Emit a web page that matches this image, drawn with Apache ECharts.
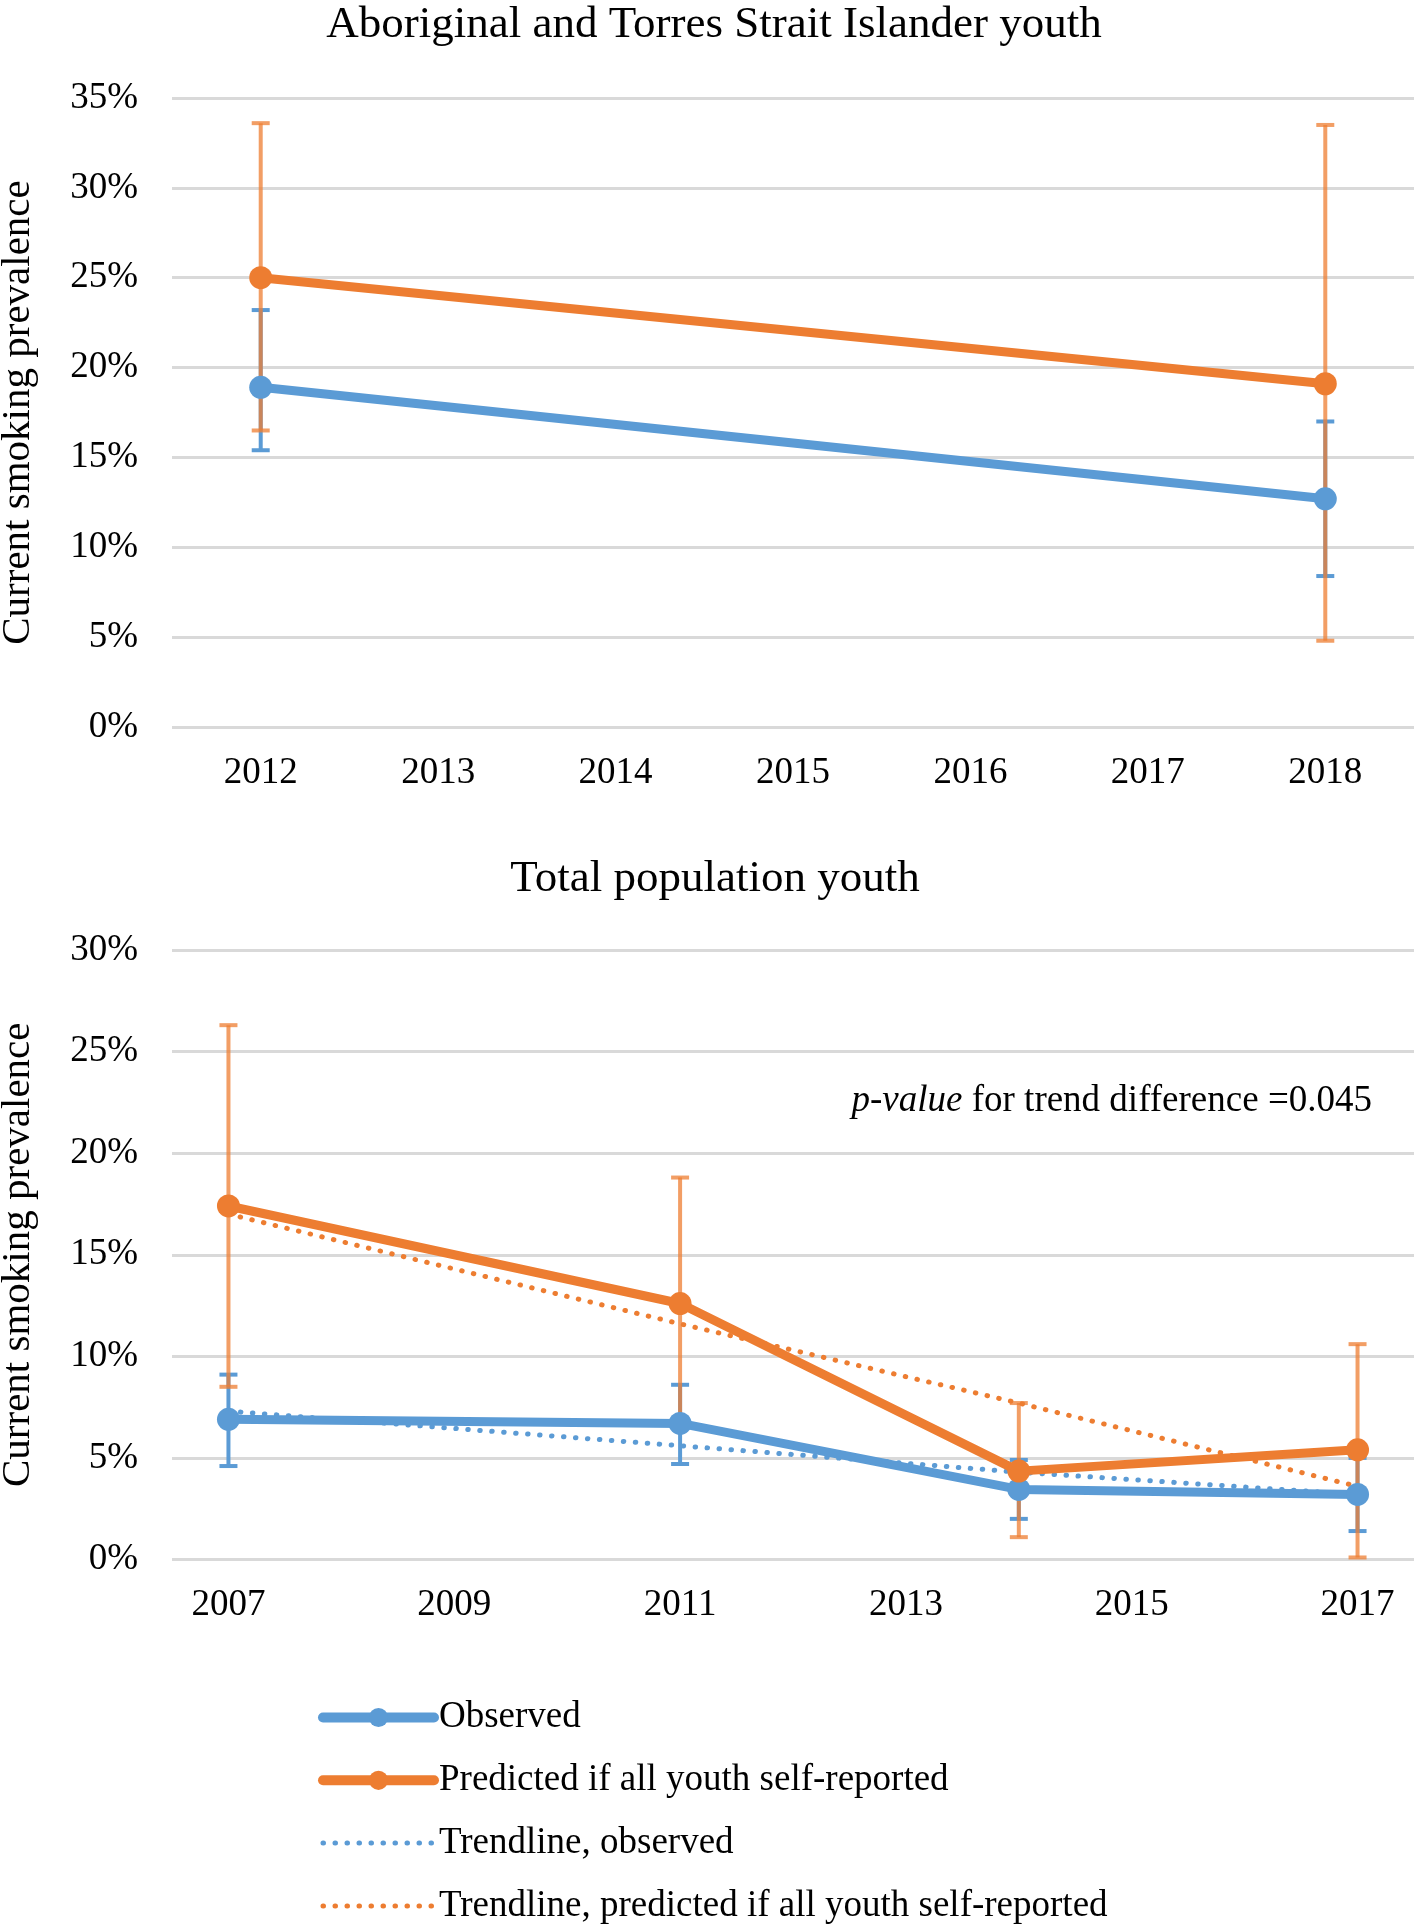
<!DOCTYPE html>
<html>
<head>
<meta charset="utf-8">
<script src="https://cdn.jsdelivr.net/npm/echarts@6/dist/echarts.min.js"></script>
<style>
html,body{margin:0;padding:0;background:#fff;}
#chart{width:1416px;height:1924px;}
</style>
</head>
<body>
<div id="chart"></div>
<script>
// ---- Top chart data (Aboriginal and Torres Strait Islander youth) ----
const topCategories = ['2012', '2013', '2014', '2015', '2016', '2017', '2018'];
const topYears = ['2012', '2018'];
const topObserved = [18.9, 12.7];
const topObservedLow = [15.4, 8.4];
const topObservedHigh = [23.2, 17.0];
const topPredicted = [25.0, 19.1];
const topPredictedLow = [16.5, 4.8];
const topPredictedHigh = [33.6, 33.5];

// ---- Bottom chart data (Total population youth) ----
const bottomTicks = [2007, 2009, 2011, 2013, 2015, 2017];
const bottomYears = [2007, 2011, 2014, 2017];
const bottomObserved = [6.9, 6.7, 3.45, 3.2];
const bottomObservedLow = [4.6, 4.7, 2.0, 1.4];
const bottomObservedHigh = [9.1, 8.6, 4.9, 5.0];
const bottomPredicted = [17.4, 12.6, 4.35, 5.4];
const bottomPredictedLow = [8.5, 6.5, 1.1, 0.1];
const bottomPredictedHigh = [26.3, 18.8, 7.7, 10.6];
const trendObserved = [7.3, 5.6, 4.3, 3.2];
const trendPredicted = [17.0, 11.6, 7.7, 3.6];

const seriesNames = ['Observed', 'Predicted if all youth self-reported', 'Trendline, observed', 'Trendline, predicted if all youth self-reported'];

const BLUE = '#5B9BD5';
const ORANGE = '#ED7D31';
const BLUE_ERR = 'rgba(91,155,213,1)';
const ORANGE_ERR = 'rgba(237,125,49,0.75)';
const FONT = 'Liberation Serif';
const DOTS = [0.5, 11.5];

function pairs(xs, ys) { return xs.map((x, i) => [x, ys[i]]); }
function triples(xs, lo, hi) { return xs.map((x, i) => [x, lo[i], hi[i]]); }

function errorBar(color) {
  return function (params, api) {
    const x = api.value(0);
    const lo = api.coord([x, api.value(1)]);
    const hi = api.coord([x, api.value(2)]);
    const cap = 9;
    const style = { stroke: color, lineWidth: 4, fill: null };
    return {
      type: 'group',
      children: [
        { type: 'line', shape: { x1: lo[0], y1: lo[1], x2: hi[0], y2: hi[1] }, style: style },
        { type: 'line', shape: { x1: lo[0] - cap, y1: lo[1], x2: lo[0] + cap, y2: lo[1] }, style: style },
        { type: 'line', shape: { x1: hi[0] - cap, y1: hi[1], x2: hi[0] + cap, y2: hi[1] }, style: style }
      ]
    };
  };
}

const labelRich = { t: { fontFamily: FONT, fontSize: 37, color: '#000' } };
function axisLabel(extra) {
  return Object.assign({ fontFamily: FONT, fontSize: 37, color: '#000', rich: labelRich }, extra);
}
const gridLine = { show: true, lineStyle: { color: '#D9D9D9', width: 3 } };

const option = {
  backgroundColor: '#fff',
  animation: false,
  textStyle: { fontFamily: FONT, color: '#000' },
  title: [
    { text: 'Aboriginal and Torres Strait Islander youth', left: 709, textAlign: 'center', top: -2,
      textStyle: { fontFamily: FONT, fontSize: 45, fontWeight: 'normal', color: '#000' } },
    { text: 'Total population youth', left: 710, textAlign: 'center', top: 852,
      textStyle: { fontFamily: FONT, fontSize: 45, fontWeight: 'normal', color: '#000' } }
  ],
  grid: [
    { left: 172, right: 2, top: 98, height: 629, containLabel: false, outerBoundsMode: 'none' },
    { left: 172, right: 2, top: 950, height: 609.5, containLabel: false, outerBoundsMode: 'none' }
  ],
  xAxis: [
    { type: 'category', gridIndex: 0, data: topCategories, boundaryGap: true,
      axisLine: { show: false }, axisTick: { show: false }, splitLine: { show: false },
      axisLabel: axisLabel({ margin: 28, formatter: v => '{t|' + v + '}' }) },
    { type: 'value', gridIndex: 1, min: 2006.5, max: 2017.5,
      axisLine: { show: false }, axisTick: { show: false }, splitLine: { show: false },
      axisLabel: axisLabel({ margin: 27, customValues: bottomTicks, formatter: v => '{t|' + v + '}' }) }
  ],
  yAxis: [
    { type: 'value', gridIndex: 0, min: 0, max: 35, interval: 5,
      name: 'Current smoking prevalence', nameLocation: 'middle', nameGap: 133,
      nameTextStyle: { fontFamily: FONT, fontSize: 41, color: '#000' },
      axisLine: { show: false }, axisTick: { show: false }, splitLine: gridLine,
      axisLabel: axisLabel({ margin: 34, formatter: v => '{t|' + v + '%}' }) },
    { type: 'value', gridIndex: 1, min: 0, max: 30, interval: 5,
      name: 'Current smoking prevalence', nameLocation: 'middle', nameGap: 133,
      nameTextStyle: { fontFamily: FONT, fontSize: 41, color: '#000' },
      axisLine: { show: false }, axisTick: { show: false }, splitLine: gridLine,
      axisLabel: axisLabel({ margin: 34, formatter: v => '{t|' + v + '%}' }) }
  ],
  legend: {
    orient: 'vertical', left: 318, top: 1699, height: 280, padding: 0,
    itemWidth: 111, itemHeight: 24, itemGap: 25.8,
    data: [
      { name: seriesNames[0], lineStyle: { width: 10, cap: 'round', color: BLUE }, itemStyle: { color: BLUE } },
      { name: seriesNames[1], lineStyle: { width: 10, cap: 'round', color: ORANGE }, itemStyle: { color: ORANGE } },
      { name: seriesNames[2], lineStyle: { width: 5, type: DOTS, cap: 'round', color: BLUE }, itemStyle: { opacity: 0 } },
      { name: seriesNames[3], lineStyle: { width: 5, type: DOTS, cap: 'round', color: ORANGE }, itemStyle: { opacity: 0 } }
    ],
    textStyle: { fontFamily: FONT, fontSize: 37, color: '#000' },
    selectedMode: false
  },
  graphic: [
    { type: 'text', x: 1372, y: 1101,
      style: {
        text: '{i|p-value} for trend difference =0.045',
        align: 'right', verticalAlign: 'middle',
        fontFamily: FONT, fontSize: 37, fill: '#000',
        rich: { i: { fontFamily: FONT, fontSize: 37, fontStyle: 'italic', fill: '#000' } }
      } }
  ],
  series: [
    // ---- top error bars ----
    { type: 'custom', xAxisIndex: 0, yAxisIndex: 0, z: 1, silent: true,
      renderItem: errorBar(BLUE_ERR), data: triples(topYears, topObservedLow, topObservedHigh) },
    { type: 'custom', xAxisIndex: 0, yAxisIndex: 0, z: 1, silent: true,
      renderItem: errorBar(ORANGE_ERR), data: triples(topYears, topPredictedLow, topPredictedHigh) },
    // ---- top lines ----
    { name: seriesNames[0], type: 'line', xAxisIndex: 0, yAxisIndex: 0, z: 3,
      data: pairs(topYears, topObserved), symbol: 'circle', symbolSize: 23,
      lineStyle: { color: BLUE, width: 9 }, itemStyle: { color: BLUE } },
    { name: seriesNames[1], type: 'line', xAxisIndex: 0, yAxisIndex: 0, z: 3,
      data: pairs(topYears, topPredicted), symbol: 'circle', symbolSize: 23,
      lineStyle: { color: ORANGE, width: 9 }, itemStyle: { color: ORANGE } },
    // ---- bottom error bars ----
    { type: 'custom', xAxisIndex: 1, yAxisIndex: 1, z: 1, silent: true,
      renderItem: errorBar(BLUE_ERR), data: triples(bottomYears, bottomObservedLow, bottomObservedHigh) },
    { type: 'custom', xAxisIndex: 1, yAxisIndex: 1, z: 1, silent: true,
      renderItem: errorBar(ORANGE_ERR), data: triples(bottomYears, bottomPredictedLow, bottomPredictedHigh) },
    // ---- bottom trendlines ----
    { name: seriesNames[2], type: 'line', xAxisIndex: 1, yAxisIndex: 1, z: 2,
      data: pairs(bottomYears, trendObserved), symbol: 'none',
      lineStyle: { color: BLUE, width: 5, type: DOTS, cap: 'round' }, itemStyle: { color: BLUE } },
    { name: seriesNames[3], type: 'line', xAxisIndex: 1, yAxisIndex: 1, z: 2,
      data: pairs(bottomYears, trendPredicted), symbol: 'none',
      lineStyle: { color: ORANGE, width: 5, type: DOTS, cap: 'round' }, itemStyle: { color: ORANGE } },
    // ---- bottom lines ----
    { name: seriesNames[0], type: 'line', xAxisIndex: 1, yAxisIndex: 1, z: 3,
      data: pairs(bottomYears, bottomObserved), symbol: 'circle', symbolSize: 23,
      lineStyle: { color: BLUE, width: 9 }, itemStyle: { color: BLUE } },
    { name: seriesNames[1], type: 'line', xAxisIndex: 1, yAxisIndex: 1, z: 3,
      data: pairs(bottomYears, bottomPredicted), symbol: 'circle', symbolSize: 23,
      lineStyle: { color: ORANGE, width: 9 }, itemStyle: { color: ORANGE } }
  ]
};

const chart = echarts.init(document.getElementById('chart'), null, { renderer: 'canvas' });
chart.setOption(option);
</script>
</body>
</html>
